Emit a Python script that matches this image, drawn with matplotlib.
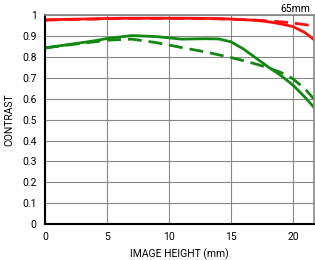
import numpy as np
import matplotlib.pyplot as plt

plt.rcParams['font.family'] = ['Roboto', 'DejaVu Sans']

x = [0, 2, 4, 5, 7, 9, 11, 13, 14, 15, 16, 17, 18, 19, 20, 21, 21.7]
red_solid = [0.977, 0.980, 0.982, 0.984, 0.985, 0.985, 0.985, 0.984, 0.983, 0.981, 0.978, 0.975, 0.968, 0.958, 0.945, 0.915, 0.882]
red_dash = [0.976, 0.979, 0.981, 0.983, 0.984, 0.984, 0.984, 0.983, 0.982, 0.980, 0.978, 0.976, 0.972, 0.968, 0.962, 0.954, 0.947]
green_solid = [0.843, 0.860, 0.877, 0.888, 0.902, 0.897, 0.885, 0.887, 0.886, 0.872, 0.838, 0.795, 0.752, 0.712, 0.665, 0.605, 0.558]
green_dash = [0.843, 0.858, 0.872, 0.880, 0.885, 0.868, 0.845, 0.823, 0.810, 0.797, 0.782, 0.766, 0.748, 0.726, 0.695, 0.645, 0.598]

fig = plt.figure(figsize=(3.15, 2.6), dpi=100)
ax = fig.add_axes([0.143, 0.138, 0.854, 0.804])

ax.plot(x, red_solid, '-', color='#ff1010', lw=2)
ax.plot(x, red_dash, '--', color='#ff1010', lw=2, dashes=(5, 2.5))
ax.plot(x, green_solid, '-', color='#118811', lw=2)
ax.plot(x, green_dash, '--', color='#118811', lw=2, dashes=(5, 2.5))

ax.set_xlim(0, 21.7)
ax.set_ylim(0, 1)
ax.set_xticks([0, 5, 10, 15, 20])
ax.set_yticks(np.arange(0, 1.01, 0.1))
ax.set_yticklabels(['0', '0.1', '0.2', '0.3', '0.4', '0.5', '0.6', '0.7', '0.8', '0.9', '1'])
ax.grid(True, color='#888888', lw=0.8)
ax.tick_params(length=0, labelsize=7.5, pad=6)
ax.spines['left'].set_linewidth(1.5)
ax.spines['bottom'].set_linewidth(1.5)
for s in ['top', 'right']:
    ax.spines[s].set_color('#888888')
    ax.spines[s].set_linewidth(1.2)

ax.set_xlabel('IMAGE HEIGHT (mm)', fontsize=7.5, labelpad=4)
ax.set_ylabel('CONTRAST', fontsize=7.5, labelpad=6)
fig.text(0.985, 0.985, '65mm', ha='right', va='top', fontsize=7.5)

fig.savefig('out.png', dpi=100)
